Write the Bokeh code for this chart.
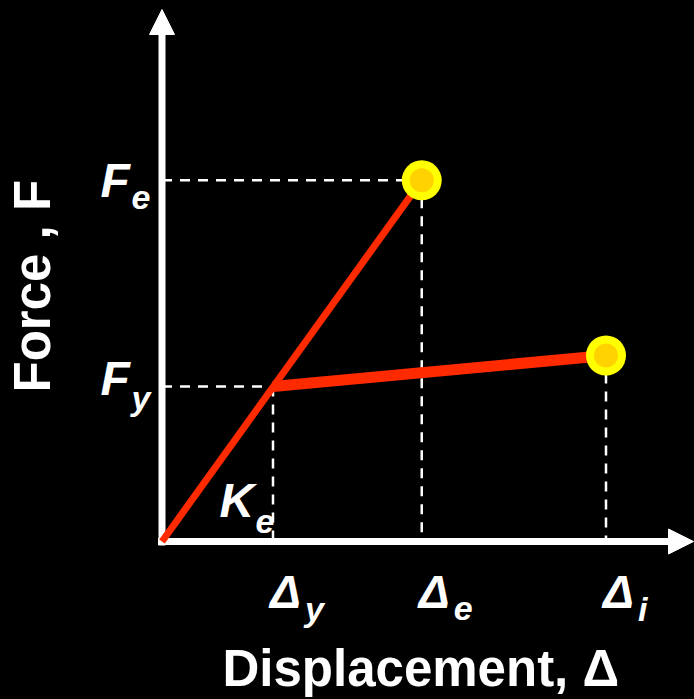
import math
from bokeh.plotting import figure
from bokeh.models import Range1d, Label, Arrow, NormalHead
from bokeh.embed import file_html
from bokeh.resources import INLINE

# ---------------- data (dimensionless) ----------------
point_names = ["y", "e", "i"]            # yield, elastic, inelastic
displacement = [1.0, 2.34, 4.0]          # Δy, Δe, Δi
force = [1.0, 2.33, 1.20]                # Fy, Fe, Fi
force_tick_names = ["e", "y"]            # F_e, F_y on the force axis
force_tick_values = [2.33, 1.0]
elastic_x = [0.0, 2.34]                  # elastic branch (K_e)
elastic_y = [0.0, 2.33]
inelastic_x = [1.0, 4.0]                 # post-yield branch
inelastic_y = [1.0, 1.20]
x_title = "Displacement, Δ"
y_title = "Force , F"
slope_main, slope_sub = "K", "e"

# ---------------- layout ----------------
W, H = 694, 699
PX_X, PX_Y = 111.0, 155.0        # pixels per data unit
OX, OY = 161.5, 158.0            # origin inside the frame (from left, from bottom)
FONT = "Liberation Sans"
WHITE = "#ffffff"
RED = "#ff2a00"
F_MAIN_OFF = [0, 8]              # vertical offsets of "F" labels (px)
F_SUB_OFF = [-17, -11]

def sx(px):  # frame px (from left) -> data x
    return (px - OX) / PX_X

def sy(py):  # frame px (from bottom) -> data y
    return (py - OY) / PX_Y

p = figure(width=W, height=H, output_backend="svg", toolbar_location=None,
           x_range=Range1d(sx(0), sx(W)), y_range=Range1d(sy(0), sy(H)),
           x_axis_type=None, y_axis_type=None, min_border=0,
           background_fill_color="black", border_fill_color="black",
           outline_line_color=None)

# dashed guides
yi, ei, ii = 0, 1, 2
hx0, hx1, hy = [], [], []
for k in (yi, ei):
    hx0.append(0.0); hx1.append(displacement[k]); hy.append(force[k])
p.segment(hx0, hy, hx1, hy, line_color=WHITE, line_width=2.5, line_dash="10 8")
vx, vy0 = [], []
for k in range(3):
    vx.append(displacement[k]); vy0.append(force[k])
p.segment(vx, vy0, vx, [0.0] * 3, line_color=WHITE, line_width=2.5, line_dash="10 8")

# axes with arrow heads
AXW = 7
p.segment([-4 / PX_X], [0.0], [sx(W - 24)], [0.0], line_color=WHITE, line_width=AXW)
p.segment([0.0], [-4 / PX_Y], [0.0], [sy(H - 33)], line_color=WHITE, line_width=AXW)
p.add_layout(Arrow(end=NormalHead(size=25, fill_color=WHITE, line_color=WHITE, line_width=1),
                   x_start=sx(W - 60), y_start=0.0, x_end=sx(W - 1), y_end=0.0, line_alpha=0))
p.add_layout(Arrow(end=NormalHead(size=25, fill_color=WHITE, line_color=WHITE, line_width=1),
                   x_start=0.0, y_start=sy(H - 60), x_end=0.0, y_end=sy(H - 9), line_alpha=0))

# force-displacement curve
p.line(elastic_x, elastic_y, line_color=RED, line_width=7)
p.line(inelastic_x, inelastic_y, line_color=RED, line_width=11)

# markers at Δe and Δi
p.scatter([displacement[ei], displacement[ii]], [force[ei], force[ii]], size=40,
          fill_color="#ffff00", line_color=None)
p.scatter([displacement[ei], displacement[ii]], [force[ei], force[ii]], size=24,
          fill_color="#ffd200", line_color=None)

def lab(text, size, **kw):
    p.add_layout(Label(text=text, text_font=FONT, text_font_size=size,
                       text_font_style="bold italic", text_color=WHITE,
                       text_align="left", text_baseline="middle", **kw))

# force ticks
for name, fv, mo, so in zip(force_tick_names, force_tick_values, F_MAIN_OFF, F_SUB_OFF):
    lab("F", "48px", x=100, x_units="screen", y=fv, y_units="data", y_offset=mo)
    lab(name, "34px", x=131, x_units="screen", y=fv, y_units="data", y_offset=so)

# displacement ticks
for name, dv in zip(point_names, displacement):
    lab("Δ", "46px", x=dv, x_units="data", y=108, y_units="screen", x_offset=-3)
    lab(name, "34px", x=dv, x_units="data", y=91, y_units="screen", x_offset=32)

# stiffness label
lab(slope_main, "48px", x=219, y=199, x_units="screen", y_units="screen")
lab(slope_sub, "34px", x=255, y=178, x_units="screen", y_units="screen")

# axis titles
p.add_layout(Label(text=x_title, x=222, y=31, x_units="screen", y_units="screen",
                   text_font=FONT, text_font_size="51px", text_font_style="bold",
                   text_color=WHITE, text_baseline="middle"))
p.add_layout(Label(text=y_title, x=32, y=307, x_units="screen", y_units="screen",
                   angle=math.pi / 2, text_font=FONT, text_font_size="51px",
                   text_font_style="bold", text_color=WHITE, text_baseline="middle"))

TEMPLATE = """
{% block postamble %}
<style>html, body { background: #000000; }</style>
{% endblock %}
"""
open("out.html", "w").write(file_html(p, INLINE, title="Force-Displacement", template=TEMPLATE))
